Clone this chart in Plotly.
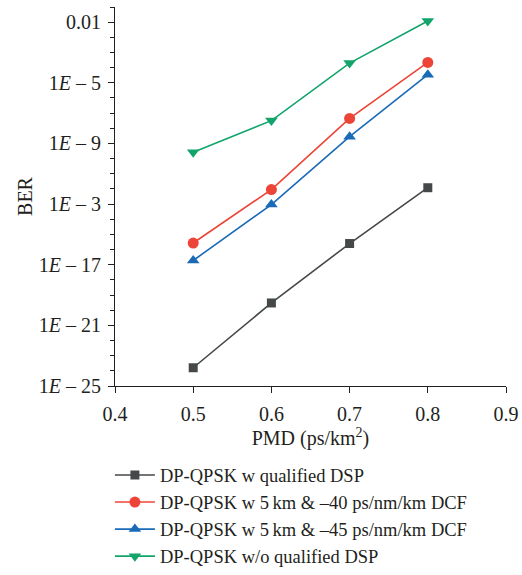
import plotly.graph_objects as go

# PMD values (ps/km^2)
pmd = [0.5, 0.6, 0.7, 0.8]

# BER for each receiver configuration
ber_qualified_dsp = [1.6e-24, 3.0e-20, 2.5e-16, 1.2e-12]
ber_dcf_40 = [2.7e-16, 9.1e-13, 4.5e-8, 2.2e-4]
ber_dcf_45 = [1.9e-17, 9.3e-14, 2.8e-9, 3.4e-5]
ber_no_dsp = [2.6e-10, 3.2e-8, 2.0e-4, 1.2e-1]

series_names = [
    "DP-QPSK w qualified DSP",
    "DP-QPSK w 5\u2009km & \u201340 ps/nm/km DCF",
    "DP-QPSK w 5\u2009km & \u201345 ps/nm/km DCF",
    "DP-QPSK w/o qualified DSP",
]
series_values = [ber_qualified_dsp, ber_dcf_40, ber_dcf_45, ber_no_dsp]
series_colors = ["#454849", "#ec4437", "#1a6ab8", "#12a46b"]
series_symbols = ["square", "circle", "triangle-up", "triangle-down"]
series_sizes = [9, 11, 11, 11]

x_ticks = [0.4, 0.5, 0.6, 0.7, 0.8, 0.9]
y_tickvals = [1e-1, 1e-5, 1e-9, 1e-13, 1e-17, 1e-21, 1e-25]
y_ticktext = [
    "0.01",
    "1<i>E</i> \u2013 5",
    "1<i>E</i> \u2013 9",
    "1<i>E</i> \u2013 3",
    "1<i>E</i> \u2013 17",
    "1<i>E</i> \u2013 21",
    "1<i>E</i> \u2013 25",
]
y_minor = [10.0 ** (-k) for k in range(0, 26)]

font_family = "Liberation Serif"
axis_color = "#231f20"

fig = go.Figure()
for name, vals, color, sym, size in zip(series_names, series_values, series_colors,
                                        series_symbols, series_sizes):
    fig.add_trace(go.Scatter(
        x=pmd, y=vals, name=name, mode="lines+markers",
        line=dict(color=color, width=1.6),
        marker=dict(symbol=sym, size=size, color=color, line=dict(width=0)),
    ))

fig.update_layout(
    width=522, height=575,
    margin=dict(l=115, r=16, t=7, b=189, autoexpand=False),
    paper_bgcolor="white", plot_bgcolor="white",
    font=dict(family=font_family, size=20, color=axis_color),
    showlegend=True,
    legend=dict(
        x=-0.013, y=-0.186, xanchor="left", yanchor="top",
        font=dict(family=font_family, size=18.5, color=axis_color),
        bgcolor="rgba(0,0,0,0)", tracegroupgap=0, itemwidth=40,
    ),
)

fig.update_xaxes(
    range=[0.4, 0.9], tickvals=x_ticks, ticktext=[f"{v:.1f}" for v in x_ticks],
    showline=True, linecolor=axis_color, linewidth=1.2,
    ticks="outside", ticklen=6, tickcolor=axis_color, tickwidth=1.2,
    ticklabelstandoff=4,
    showgrid=False, zeroline=False,
    title=dict(text="PMD (ps/km<sup>2</sup>)", standoff=4,
               font=dict(family=font_family, size=20)),
)

fig.update_yaxes(
    type="log", range=[-25, 0],
    tickmode="array", tickvals=y_tickvals, ticktext=y_ticktext,
    showline=True, linecolor=axis_color, linewidth=1.2,
    ticks="outside", ticklen=6, tickcolor=axis_color, tickwidth=1.2,
    ticklabelstandoff=3,
    minor=dict(tickmode="array", tickvals=y_minor, ticks="outside", ticklen=4,
               tickcolor=axis_color, tickwidth=1.2, showgrid=False),
    showgrid=False, zeroline=False,
    title=dict(text="BER", standoff=0, font=dict(family=font_family, size=20)),
)

fig.write_html("out.html")
